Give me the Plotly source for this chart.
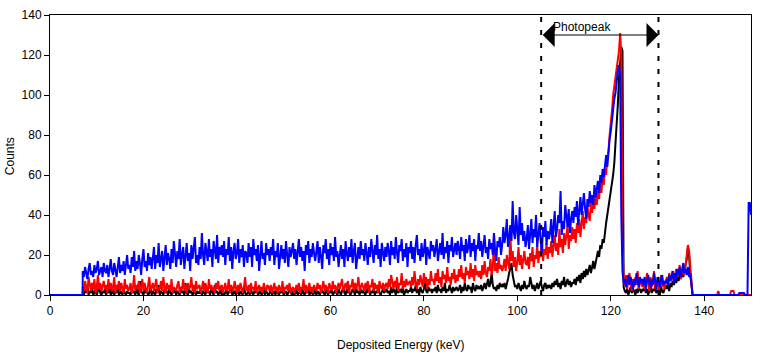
import numpy as np
import plotly.graph_objects as go

# Spectrum channels: start at 7.0 keV, 0.25 keV wide (below 7 keV every series is 0)
energy_start = 7.0
energy_step = 0.25

blue_counts = [
    12,9,14,11,8,13,16,10,12,9,15,11,13,17,10,12,14,9,16,12,
    11,15,9,13,18,12,10,16,13,9,14,19,11,15,12,17,10,14,20,13,
    15,11,19,14,22,12,17,13,20,16,10,18,23,14,17,12,21,15,19,13,
    18,24,13,20,16,26,14,19,22,12,17,25,15,21,18,13,23,16,27,19,
    14,22,18,28,15,20,24,13,19,26,17,21,12,25,18,23,29,16,20,15,
    24,18,31,20,15,26,22,17,28,19,23,14,27,21,18,30,16,24,20,25,
    19,27,15,23,20,29,17,24,13,22,26,18,21,28,16,23,19,25,14,22,
    21,16,26,19,24,14,28,20,23,17,25,12,22,27,18,21,15,26,20,23,
    17,24,20,28,15,22,19,26,13,21,25,18,23,16,27,20,14,24,19,22,
    26,18,23,15,21,28,19,24,17,22,12,25,20,27,16,23,19,26,21,17,
    22,27,16,24,19,13,25,21,28,18,23,15,26,20,24,17,29,19,22,14,
    20,25,18,23,14,27,21,17,24,19,28,16,22,26,13,21,24,18,27,20,
    23,17,26,21,15,24,19,28,22,16,25,20,30,18,23,14,26,21,17,24,
    19,26,22,15,27,20,24,18,29,21,16,25,22,28,17,23,19,26,14,24,
    21,27,18,24,16,25,30,20,23,17,26,19,22,28,15,24,21,18,27,22,
    25,19,23,28,17,22,26,20,31,18,24,21,27,16,25,22,29,19,23,26,
    20,27,23,18,29,22,25,17,28,21,24,30,19,26,22,28,17,25,23,31,
    22,27,19,25,30,21,24,18,28,23,26,20,31,22,17,27,24,29,20,25,
    34,26,30,38,24,29,35,27,47,31,28,40,33,25,44,30,36,27,32,24,
    28,35,23,31,38,26,33,29,40,24,30,36,27,21,34,29,37,25,32,28,
    31,38,26,35,42,29,33,40,36,52,30,37,33,45,39,34,43,31,38,42,
    36,44,39,47,35,42,49,40,45,51,43,38,48,44,52,46,50,45,55,49,
    53,57,51,60,56,63,59,66,70,64,72,78,82,88,94,98,101,108,112,115,
    110,40,12,6,8,4,7,10,5,9,6,3,8,5,11,7,4,9,6,8,
    5,9,3,7,10,6,4,8,5,11,7,3,9,6,4,8,10,5,7,6,
    8,5,10,7,9,12,6,11,8,13,10,14,9,12,16,11,13,10,14,9,
    11,6,0,0,0,0,0,0,0,0,0,0,0,0,0,0,0,0,0,0,
    0,0,0,0,0,0,0,0,0,0,0,0,0,0,0,0,0,0,0,0,
    0,0,1,1,1,1,1,0,0,0,46,46,40,
]

red_counts = [
    4,2,7,3,1,9,5,2,6,3,8,1,4,10,3,6,2,5,7,3,
    5,1,8,3,6,2,4,9,1,5,3,7,2,6,4,1,8,3,5,2,
    3,6,1,4,10,2,5,3,7,1,4,8,2,6,3,1,5,9,2,4,
    6,2,5,8,1,4,3,7,2,9,4,1,6,3,5,2,8,1,4,3,
    2,5,7,1,4,3,8,2,5,1,6,3,4,9,2,5,1,7,3,4,
    5,1,3,7,2,6,4,1,8,3,5,2,4,1,6,3,7,2,4,5,
    1,4,6,2,3,8,1,5,3,2,7,4,1,5,2,6,3,1,4,9,
    3,2,5,1,6,3,4,2,7,1,3,5,2,4,1,6,3,2,5,4,
    2,5,1,3,6,2,4,1,5,3,2,7,1,4,3,5,2,6,1,3,
    4,1,3,5,2,6,1,4,3,8,2,5,1,3,6,2,4,1,5,3,
    2,6,3,5,1,4,7,2,5,3,1,6,4,2,7,3,5,1,4,6,
    3,5,8,2,4,6,3,7,1,5,4,8,2,6,3,5,9,2,4,6,
    4,2,6,3,7,1,5,4,8,2,6,3,5,1,7,4,3,6,2,5,
    6,3,8,4,10,5,3,7,4,9,2,6,5,11,3,7,4,8,5,6,
    7,4,9,5,12,6,3,8,5,10,7,4,11,6,9,3,8,5,12,7,
    8,5,11,7,13,6,9,4,12,8,10,6,14,7,9,5,11,8,13,6,
    10,7,13,9,15,8,11,6,14,10,12,8,16,9,13,7,15,10,12,9,
    12,8,15,10,17,11,9,14,12,18,10,13,30,12,16,11,19,13,15,12,
    14,18,12,20,16,13,31,17,22,14,19,12,17,24,15,20,13,18,22,16,
    15,19,13,21,17,24,14,20,18,25,16,22,19,27,17,23,20,26,18,24,
    21,27,19,25,30,22,26,20,33,24,28,21,31,25,29,35,23,30,27,34,
    28,33,26,36,31,38,29,35,42,33,39,36,44,40,37,46,41,48,43,50,
    45,52,48,56,51,59,55,63,60,68,72,80,85,92,100,105,110,114,118,122,
    131,120,24,8,5,10,3,7,11,6,2,8,4,9,5,12,3,7,6,4,
    8,3,6,11,5,2,9,4,7,12,3,6,8,2,5,10,4,7,3,6,
    9,5,11,7,8,12,6,10,13,9,11,15,8,12,14,10,16,19,25,22,
    14,5,0,0,0,0,0,0,0,0,0,0,0,0,0,0,0,0,0,0,
    0,0,0,0,2,0,0,0,0,0,0,0,0,0,0,2,2,2,0,0,
    0,0,0,0,0,0,0,0,0,0,0,0,0,
]

black_counts = [
    2,0,3,1,5,0,2,1,4,0,1,3,0,2,6,1,0,2,1,3,
    0,2,1,4,0,1,3,0,2,1,5,0,1,2,0,3,1,0,2,1,
    1,0,3,1,2,0,4,1,0,7,2,1,0,3,1,2,0,1,4,0,
    2,1,0,3,1,5,0,2,1,0,3,1,2,0,4,1,0,2,1,3,
    0,2,1,0,4,1,2,0,6,1,0,3,1,2,0,1,3,0,2,1,
    1,3,0,2,1,0,4,1,2,0,3,1,0,5,1,2,0,1,3,0,
    2,0,1,3,0,2,1,4,0,1,2,0,3,1,0,2,1,0,4,1,
    0,1,2,0,3,1,0,2,1,4,0,1,2,0,1,3,0,2,1,0,
    1,3,0,1,2,0,4,1,0,2,1,3,0,1,2,0,1,3,1,0,
    2,0,1,3,0,1,2,0,3,1,0,2,1,4,0,1,2,0,1,3,
    0,2,1,0,3,1,2,0,1,4,0,2,1,3,0,1,2,1,0,3,
    1,0,2,4,1,0,3,1,2,0,1,3,2,0,4,1,2,0,3,1,
    2,1,0,3,1,4,0,2,1,3,0,2,1,5,1,0,2,3,1,2,
    3,1,2,0,4,1,3,2,0,5,1,2,3,1,4,0,2,3,1,2,
    2,4,1,3,2,5,1,3,0,4,2,1,3,6,2,1,4,2,3,1,
    3,2,4,1,5,2,3,1,4,2,6,1,3,2,5,3,1,4,2,3,
    4,2,3,5,1,4,2,6,3,2,5,3,4,1,6,3,2,5,3,4,
    3,5,2,4,6,3,5,8,4,6,11,5,3,4,2,5,3,6,4,5,
    4,6,3,5,8,11,14,16,10,6,4,5,3,6,4,2,5,3,7,4,
    3,5,4,9,6,3,5,2,4,6,3,5,7,4,2,5,6,3,5,4,
    5,3,6,4,7,5,8,4,6,3,7,5,9,4,6,8,5,7,4,6,
    6,8,5,9,7,10,6,11,8,12,9,13,10,12,15,11,14,17,13,16,
    18,22,19,25,23,28,26,33,36,40,44,48,50,54,60,66,74,84,95,108,
    118,124,122,4,2,1,3,0,2,4,1,3,2,0,3,1,4,2,1,3,
    2,4,1,3,0,2,5,1,3,2,4,1,2,3,0,4,2,1,3,5,
    3,5,2,6,4,7,5,8,6,9,7,10,8,11,9,12,14,18,24,20,
    10,3,0,0,0,0,0,0,0,0,0,0,0,0,0,0,0,0,0,0,
    0,0,0,0,0,0,0,0,0,0,0,0,0,0,0,0,0,0,0,0,
    0,0,0,0,0,0,0,0,0,0,0,0,0,
]

photopeak_window = [105.1, 130.2]   # keV
photopeak_label = "Photopeak"
arrow_level = 130                   # counts

x_ticks = [0, 20, 40, 60, 80, 100, 120, 140]
y_ticks = [0, 20, 40, 60, 80, 100, 120, 140]

n = len(blue_counts)
assert len(red_counts) == n and len(black_counts) == n, (len(blue_counts), len(red_counts), len(black_counts))
energy = [0.0, energy_start] + list(energy_start + energy_step * np.arange(n))

fig = go.Figure()
for name, vals, col in [("black", black_counts, "#000000"),
                        ("red", red_counts, "#FF0000"),
                        ("blue", blue_counts, "#0000FF")]:
    fig.add_trace(go.Scatter(
        x=energy, y=[0, 0] + vals, mode="lines", name=name,
        line=dict(color=col, width=2),
        showlegend=False, hoverinfo="skip"))

for xv in photopeak_window:
    fig.add_shape(type="line", x0=xv, x1=xv, y0=0, y1=1, xref="x", yref="paper",
                  line=dict(color="black", width=2, dash="5px,8px"), layer="above")

fig.add_annotation(x=photopeak_window[1], y=arrow_level, ax=photopeak_window[0], ay=arrow_level,
                   xref="x", yref="y", axref="x", ayref="y", text="", showarrow=True,
                   arrowside="end+start", arrowhead=1, startarrowhead=1,
                   arrowsize=4, startarrowsize=4, arrowwidth=1, arrowcolor="black")
fig.add_annotation(x=(photopeak_window[0] + photopeak_window[1]) / 2 - 3.8, y=arrow_level,
                   xref="x", yref="y", text=photopeak_label, showarrow=False,
                   yanchor="bottom", borderpad=0,
                   font=dict(size=12, color="black", family="Liberation Sans, Arial, sans-serif"))

fig.add_annotation(x=0.5, y=-0.177, xref="paper", yref="paper", text="Deposited Energy (keV)",
                   showarrow=False, xanchor="center", yanchor="middle",
                   font=dict(size=12, color="black"))
fig.add_annotation(x=-0.057, y=0.496, xref="paper", yref="paper", text="Counts",
                   showarrow=False, textangle=-90, xanchor="center", yanchor="middle",
                   font=dict(size=12, color="black"))

axis_common = dict(showgrid=False, zeroline=False, showline=True, linecolor="black",
                   linewidth=1, mirror=True, ticks="outside", ticklen=5, tickwidth=1,
                   tickcolor="black", tickfont=dict(size=12, color="black"))
fig.update_xaxes(range=[0, 150], tickvals=x_ticks, **axis_common)
fig.update_yaxes(range=[0, 140], tickvals=y_ticks, **axis_common)

fig.update_layout(width=760, height=356, margin=dict(l=50, r=8, t=13, b=61),
                  plot_bgcolor="white", paper_bgcolor="white",
                  font=dict(family="Liberation Sans, Arial, sans-serif", size=12, color="black"))

fig.write_html("out.html", config={"displayModeBar": False},
               post_script="document.body.style.margin='0';document.body.style.overflow='hidden';")
